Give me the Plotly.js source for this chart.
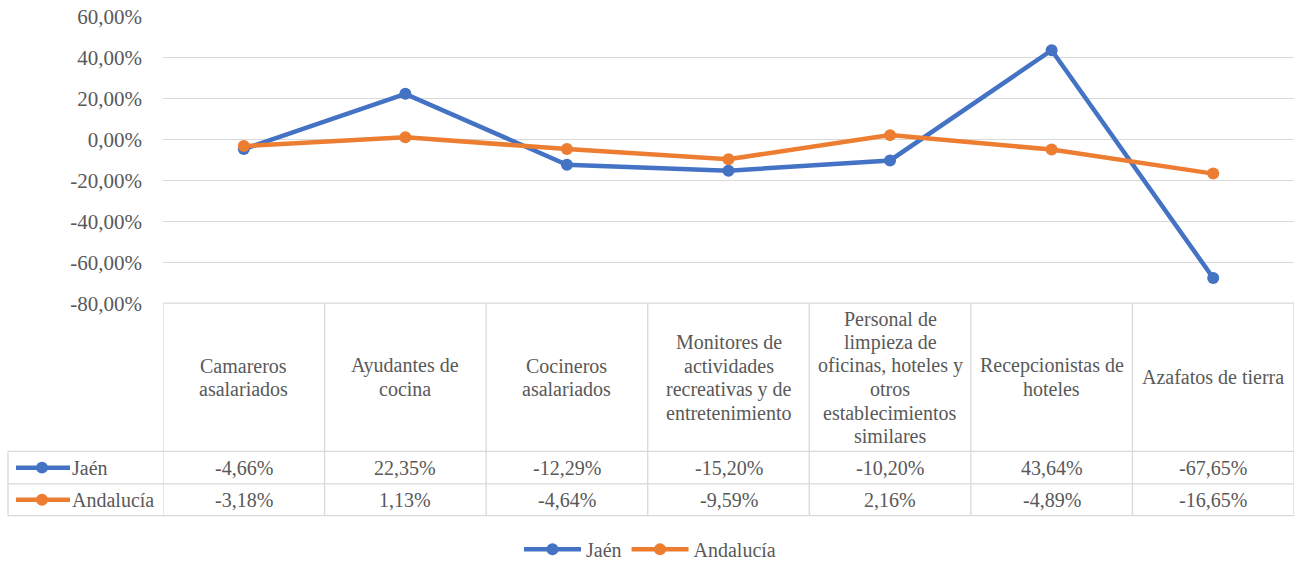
<!DOCTYPE html>
<html><head><meta charset="utf-8">
<script src="https://cdn.plot.ly/plotly-3.0.1.min.js"></script>
<style>html,body{margin:0;padding:0;background:#fff;overflow:hidden;}#chart{width:1300px;height:569px;}</style>
</head><body><div id="chart"></div>
<script>
const categories = ["Camareros asalariados","Ayudantes de cocina","Cocineros asalariados","Monitores de actividades recreativas y de entretenimiento","Personal de limpieza de oficinas, hoteles y otros establecimientos similares","Recepcionistas de hoteles","Azafatos de tierra"];
const headerLabels = ["Camareros<br>asalariados","Ayudantes de<br>cocina","Cocineros<br>asalariados","Monitores de<br>actividades<br>recreativas y de<br>entretenimiento","Personal de<br>limpieza de<br>oficinas, hoteles y<br>otros<br>establecimientos<br>similares","Recepcionistas de<br>hoteles","Azafatos de tierra"];
const seriesNames = ["Jaén","Andalucía"];
const jaen = [-4.66, 22.35, -12.29, -15.20, -10.20, 43.64, -67.65];
const andalucia = [-3.18, 1.13, -4.64, -9.59, 2.16, -4.89, -16.65];
const tickVals = [60,40,20,0,-20,-40,-60,-80];
const tickText = ["60,00%","40,00%","20,00%","0,00%","-20,00%","-40,00%","-60,00%","-80,00%"];
const colors = ["#4472C4","#ED7D31"];

const W=1300,H=569;
const PX = x => x/W, PY = y => 1 - y/H;
const FONT = 'Liberation Serif';
const TXT = "#595959", GRID = "#d9d9d9";
const FS = 20;
const fmt = v => v.toFixed(2).replace('.',',') + '%';

const idx = categories.map((c,i)=>i);
const traces = [jaen, andalucia].map((vals,k)=>({
  type:'scatter', mode:'lines+markers', name: seriesNames[k],
  x: idx, y: vals,
  line:{color:colors[k], width:4.5},
  marker:{color:colors[k], size:12},
  hoverinfo:'skip'
}));

const tableTop=307, headBot=457, row1Bot=490, row2Bot=522, tableLeft=8;
const shapes=[], annotations=[];
const L = {color:GRID, width:1.3};
shapes.push({type:'line', xref:'x', yref:'paper', x0:-0.5, x1:categories.length-0.5, y0:PY(tableTop), y1:PY(tableTop), line:L});
[headBot,row1Bot,row2Bot].forEach(y=>shapes.push({type:'line', xref:'paper', yref:'paper', x0:PX(tableLeft), x1:PX(1294), y0:PY(y), y1:PY(y), line:L}));
for(let i=0;i<=categories.length;i++){
  shapes.push({type:'line', xref:'x', yref:'paper', x0:i-0.5, x1:i-0.5, y0:PY(tableTop), y1:PY(row2Bot), line:L});
}
shapes.push({type:'line', xref:'paper', yref:'paper', x0:PX(tableLeft), x1:PX(tableLeft), y0:PY(headBot), y1:PY(row2Bot), line:L});

const LH = 23.8, headMid = (tableTop+headBot)/2;
headerLabels.forEach((t,i)=>{
  const lines = t.split('<br>');
  lines.forEach((ln,j)=>{
    const y = headMid + (j - (lines.length-1)/2)*LH;
    annotations.push({xref:'x', yref:'paper', x:i, y:PY(y), text:ln, showarrow:false, xanchor:'center', yanchor:'middle', align:'center', font:{family:FONT,size:FS,color:TXT}});
  });
});
const rowY=[(headBot+row1Bot)/2,(row1Bot+row2Bot)/2];
[jaen,andalucia].forEach((vals,k)=>{
  vals.forEach((v,i)=>annotations.push({xref:'x', yref:'paper', x:i, y:PY(rowY[k]), text:fmt(v), showarrow:false, xanchor:'center', yanchor:'middle', font:{family:FONT,size:FS,color:TXT}}));
  shapes.push({type:'line', xref:'paper', yref:'paper', x0:PX(16), x1:PX(70), y0:PY(rowY[k]), y1:PY(rowY[k]), line:{color:colors[k], width:4.5}});
  shapes.push({type:'circle', xref:'paper', yref:'paper', x0:PX(42-6), x1:PX(42+6), y0:PY(rowY[k]+6), y1:PY(rowY[k]-6), fillcolor:colors[k], line:{width:0}});
  annotations.push({xref:'paper', yref:'paper', x:PX(70), y:PY(rowY[k]), text:seriesNames[k], showarrow:false, xanchor:'left', yanchor:'middle', font:{family:FONT,size:FS,color:TXT}});
});

const layout = {
  width:W, height:H, margin:{l:0,r:0,t:0,b:0},
  paper_bgcolor:'#fff', plot_bgcolor:'#fff',
  font:{family:FONT, color:TXT, size:FS},
  xaxis:{domain:[PX(163),PX(1294)], range:[-0.5, categories.length-0.5], showticklabels:false, showgrid:false, zeroline:false, showline:false, ticks:'', fixedrange:true},
  yaxis:{domain:[PY(307),PY(17)], range:[-80,60], tickvals:tickVals, ticktext:tickText, showgrid:true, gridcolor:GRID, gridwidth:1.3, zeroline:false, showline:false, ticks:'', ticklabelstandoff:20, tickfont:{family:FONT,size:21,color:TXT}, fixedrange:true},
  showlegend:true,
  legend:{orientation:'h', x:0.5, xanchor:'center', y:PY(556), yanchor:'middle', font:{family:FONT,size:FS,color:TXT}, itemwidth:57},
  shapes, annotations
};
Plotly.newPlot('chart', traces, layout, {displayModeBar:false, staticPlot:true});
</script></body></html>
